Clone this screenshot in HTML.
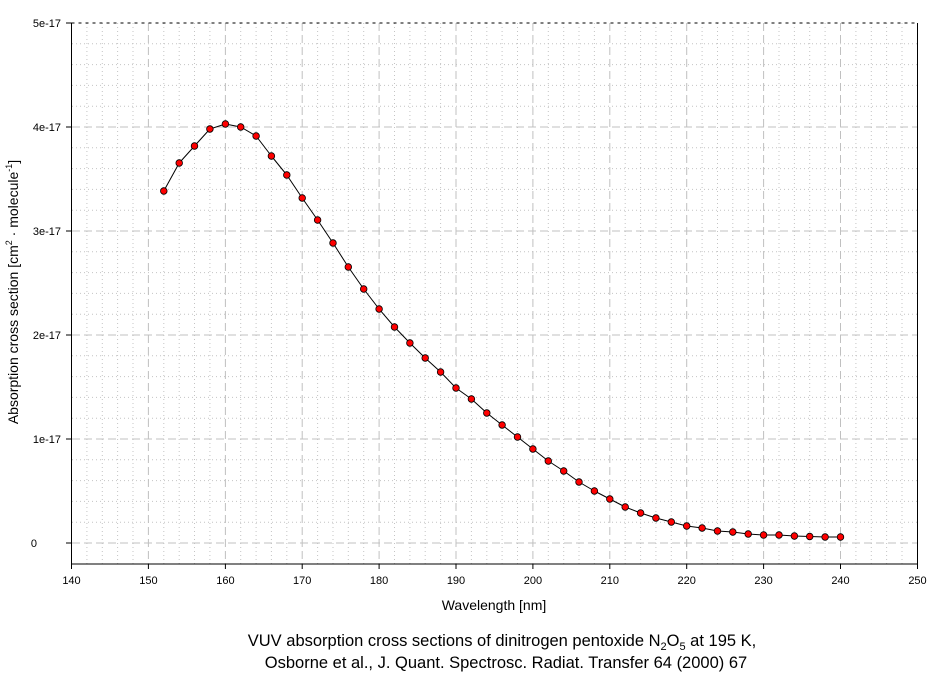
<!DOCTYPE html>
<html><head><meta charset="utf-8"><style>
html,body{margin:0;padding:0;background:#fff;}
svg{display:block;font-family:"Liberation Sans",Arial,sans-serif;}
</style></head><body>
<svg width="940" height="675" viewBox="0 0 940 675" xmlns="http://www.w3.org/2000/svg">
<rect width="940" height="675" fill="#fff"/>
<g stroke="#c4c4c4" stroke-width="1" stroke-dasharray="1,3" fill="none">
<path d="M86.9 23V564M102.3 23V564M117.6 23V564M133 23V564M163.8 23V564M179.2 23V564M194.5 23V564M209.9 23V564M240.7 23V564M256.1 23V564M271.4 23V564M286.8 23V564M317.6 23V564M333 23V564M348.3 23V564M363.7 23V564M394.5 23V564M409.9 23V564M425.2 23V564M440.6 23V564M471.4 23V564M486.8 23V564M502.1 23V564M517.5 23V564M548.3 23V564M563.7 23V564M579 23V564M594.4 23V564M625.2 23V564M640.6 23V564M655.9 23V564M671.3 23V564M702.1 23V564M717.5 23V564M732.8 23V564M748.2 23V564M779 23V564M794.4 23V564M809.7 23V564M825.1 23V564M855.9 23V564M871.3 23V564M886.6 23V564M902 23V564"/>
<path d="M72 522.2H917M72 501.4H917M72 480.6H917M72 459.8H917M72 418.2H917M72 397.4H917M72 376.6H917M72 355.8H917M72 314.2H917M72 293.4H917M72 272.6H917M72 251.8H917M72 210.2H917M72 189.4H917M72 168.6H917M72 147.8H917M72 106.2H917M72 85.4H917M72 64.6H917M72 43.8H917"/>
</g>
<g stroke="#c0c0c0" stroke-width="1" stroke-dasharray="8,4" fill="none">
<path d="M148.4 23V564M225.4 23V564M302.2 23V564M379.1 23V564M456 23V564M532.9 23V564M609.8 23V564M686.7 23V564M763.6 23V564M840.5 23V564"/>
<path d="M72 543H917M72 439H917M72 335H917M72 231H917M72 127H917"/>
</g>
<path d="M71.5 23H917.5" stroke="#000" stroke-dasharray="3,4"/>
<path d="M71.5 23V564H917.5V23" stroke="#000" fill="none"/>
<g stroke="#000">
<path d="M66 23H71.5M66 127H71.5M66 231H71.5M66 335H71.5M66 439H71.5M66 543H71.5"/>
<path d="M71.5 564V569M148.4 564V569M225.4 564V569M302.2 564V569M379.1 564V569M456 564V569M532.9 564V569M609.8 564V569M686.7 564V569M763.6 564V569M840.5 564V569M917.5 564V569"/>
</g>
<g font-size="11" fill="#000" text-anchor="end">
<text x="61" y="27">5e-17</text><text x="61" y="131">4e-17</text><text x="61" y="235">3e-17</text><text x="61" y="339">2e-17</text><text x="61" y="443">1e-17</text><text x="37" y="547">0</text>
</g>
<g font-size="11" fill="#000" text-anchor="middle">
<text x="71.5" y="584">140</text><text x="148.4" y="584">150</text><text x="225.4" y="584">160</text><text x="302.2" y="584">170</text><text x="379.1" y="584">180</text><text x="456" y="584">190</text><text x="532.9" y="584">200</text><text x="609.8" y="584">210</text><text x="686.7" y="584">220</text><text x="763.6" y="584">230</text><text x="840.5" y="584">240</text><text x="917.5" y="584">250</text>
<text x="494" y="610" font-size="14">Wavelength [nm]</text>
</g>
<text transform="translate(18,292) rotate(-90)" font-size="14" text-anchor="middle">Absorption cross section [cm<tspan font-size="9" dy="-6">2</tspan><tspan dy="6"> · molecule</tspan><tspan font-size="9" dy="-6">-1</tspan><tspan dy="6">]</tspan></text>
<g font-size="16.5" text-anchor="middle">
<text x="502" y="646">VUV absorption cross sections of dinitrogen pentoxide N<tspan font-size="11" dy="4">2</tspan><tspan dy="-4">O</tspan><tspan font-size="11" dy="4">5</tspan><tspan dy="-4"> at 195 K,</tspan></text>
<text x="506" y="668">Osborne et al., J. Quant. Spectrosc. Radiat. Transfer 64 (2000) 67</text>
</g>
<polyline fill="none" stroke="#000" stroke-width="1" stroke-linejoin="round" points="163.8,191 179.2,163 194.5,146 209.9,129 225.4,124 240.7,127 256.1,136 271.4,156 286.8,175 302.2,198 317.6,220 333,243 348.3,267 363.7,289 379.1,309 394.5,327 409.9,343 425.2,358 440.6,372 456,388 471.4,399 486.8,413 502.1,425 517.5,437 532.9,449 548.3,461 563.7,471 579,482 594.4,491 609.8,499 625.2,507 640.6,513 655.9,518 671.3,522 686.7,526 702.1,528 717.5,531 732.8,532 748.2,534 763.6,535 779,535 794.4,536 809.7,536.5 825.1,537 840.5,537"/>
<g fill="#ff0000" stroke="#000" stroke-width="0.8">
<circle cx="163.8" cy="191" r="3.3"/><circle cx="179.2" cy="163" r="3.3"/><circle cx="194.5" cy="146" r="3.3"/><circle cx="209.9" cy="129" r="3.3"/><circle cx="225.4" cy="124" r="3.3"/><circle cx="240.7" cy="127" r="3.3"/><circle cx="256.1" cy="136" r="3.3"/><circle cx="271.4" cy="156" r="3.3"/><circle cx="286.8" cy="175" r="3.3"/><circle cx="302.2" cy="198" r="3.3"/><circle cx="317.6" cy="220" r="3.3"/><circle cx="333" cy="243" r="3.3"/><circle cx="348.3" cy="267" r="3.3"/><circle cx="363.7" cy="289" r="3.3"/><circle cx="379.1" cy="309" r="3.3"/><circle cx="394.5" cy="327" r="3.3"/><circle cx="409.9" cy="343" r="3.3"/><circle cx="425.2" cy="358" r="3.3"/><circle cx="440.6" cy="372" r="3.3"/><circle cx="456" cy="388" r="3.3"/><circle cx="471.4" cy="399" r="3.3"/><circle cx="486.8" cy="413" r="3.3"/><circle cx="502.1" cy="425" r="3.3"/><circle cx="517.5" cy="437" r="3.3"/><circle cx="532.9" cy="449" r="3.3"/><circle cx="548.3" cy="461" r="3.3"/><circle cx="563.7" cy="471" r="3.3"/><circle cx="579" cy="482" r="3.3"/><circle cx="594.4" cy="491" r="3.3"/><circle cx="609.8" cy="499" r="3.3"/><circle cx="625.2" cy="507" r="3.3"/><circle cx="640.6" cy="513" r="3.3"/><circle cx="655.9" cy="518" r="3.3"/><circle cx="671.3" cy="522" r="3.3"/><circle cx="686.7" cy="526" r="3.3"/><circle cx="702.1" cy="528" r="3.3"/><circle cx="717.5" cy="531" r="3.3"/><circle cx="732.8" cy="532" r="3.3"/><circle cx="748.2" cy="534" r="3.3"/><circle cx="763.6" cy="535" r="3.3"/><circle cx="779" cy="535" r="3.3"/><circle cx="794.4" cy="536" r="3.3"/><circle cx="809.7" cy="536.5" r="3.3"/><circle cx="825.1" cy="537" r="3.3"/><circle cx="840.5" cy="537" r="3.3"/>
</g>
</svg>
</body></html>
